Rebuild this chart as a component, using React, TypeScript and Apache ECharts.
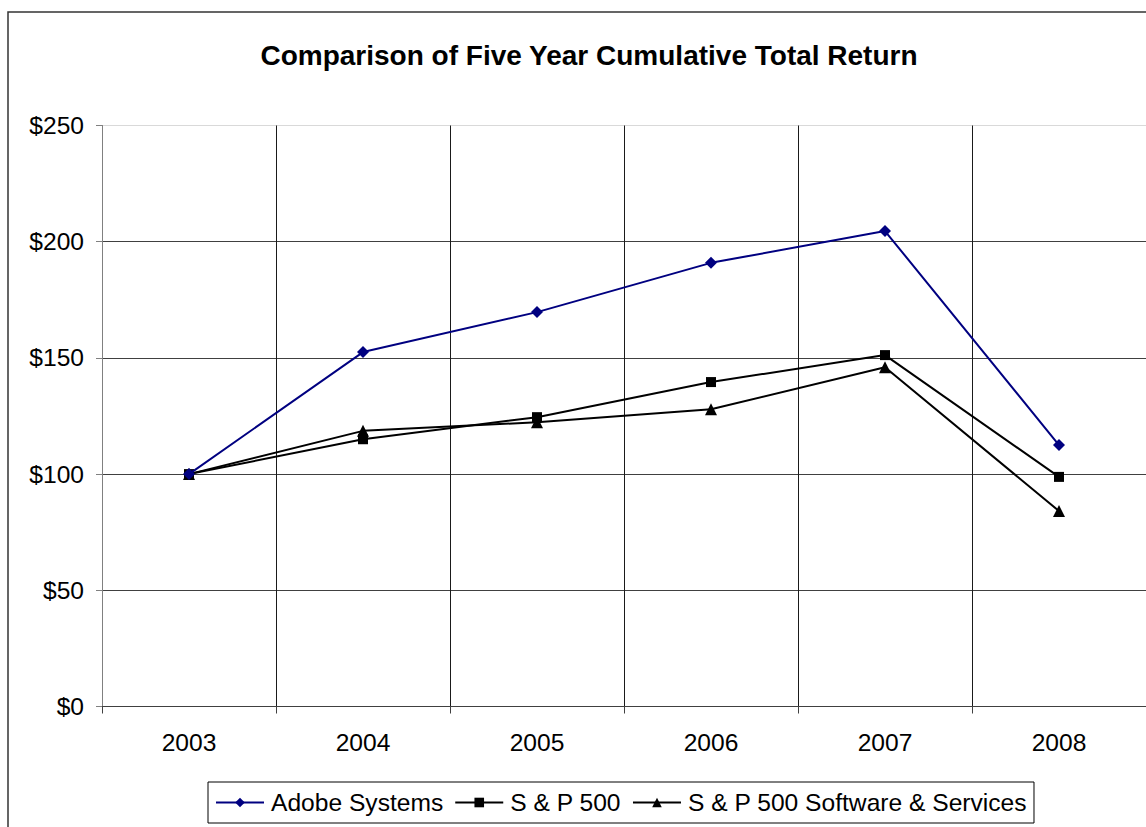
import React, { useEffect, useRef } from "react";
import * as echarts from "echarts";

const years = ["2003", "2004", "2005", "2006", "2007", "2008"];
const adobe = [100, 152.5, 169.7, 190.9, 204.6, 112.5];
const sp500 = [100, 115.0, 124.5, 139.6, 151.2, 98.8];
const spSoftware = [100, 118.6, 122.3, 127.9, 146.0, 84.1];
const seriesNames = ["Adobe Systems", "S & P 500", "S & P 500 Software & Services"];
const yTicks = { min: 0, max: 250, interval: 50 };

const FONT = "Liberation Sans, Arial, sans-serif";

export default function App() {
  const ref = useRef<HTMLDivElement>(null);
  useEffect(() => {
    if (!ref.current) return;
    const chart = echarts.init(ref.current, null, { renderer: "svg" });
    chart.setOption({
      animation: false,
      backgroundColor: "#ffffff",
      textStyle: { fontFamily: FONT },
      title: {
        text: "Comparison of Five Year Cumulative Total Return",
        left: 584,
        textAlign: "center",
        top: 36,
        textStyle: { fontFamily: FONT, fontSize: 28, fontWeight: "bold", color: "#000" },
      },
      graphic: [
        {
          type: "rect",
          shape: { x: 8, y: 12, width: 1300, height: 1000 },
          style: { fill: "none", stroke: "#333", lineWidth: 1.5 },
          silent: true,
          z: 100,
        },
      ],
      legend: {
        left: 208,
        top: 782,
        padding: [8, 7, 8, 7],
        borderColor: "#000",
        borderWidth: 1,
        itemWidth: 48,
        itemHeight: 12,
        itemGap: 11,
        textStyle: { fontFamily: FONT, fontSize: 24.6, color: "#000", padding: [0, 0, 0, 2] },
        data: seriesNames,
      },
      grid: { left: 102, top: 125.5, width: 1051.2, height: 581, containLabel: false },
      xAxis: {
        type: "category",
        data: years,
        boundaryGap: true,
        axisLine: { lineStyle: { color: "#404040", width: 1 } },
        axisTick: { show: true, length: 7, inside: false, lineStyle: { color: "#404040" } },
        axisLabel: { fontFamily: FONT, fontSize: 24.6, color: "#000", margin: 23 },
        splitLine: {
          show: true,
          lineStyle: { color: ["#808080", "#1a1a1a", "#1a1a1a", "#1a1a1a", "#1a1a1a", "#1a1a1a", "#1a1a1a"], width: 1 },
        },
      },
      yAxis: {
        type: "value",
        min: yTicks.min,
        max: yTicks.max,
        interval: yTicks.interval,
        axisLine: { show: true, lineStyle: { color: "#808080", width: 1 } },
        axisTick: { show: true, length: 6, inside: false, lineStyle: { color: "#808080" } },
        axisLabel: {
          fontFamily: FONT,
          fontSize: 24.6,
          color: "#000",
          margin: 18,
          formatter: (v: number) => "$" + v,
        },
        splitLine: {
          show: true,
          lineStyle: { color: ["#404040", "#404040", "#404040", "#404040", "#404040", "#d9d9d9"], width: 1 },
        },
      },
      series: [
        {
          name: seriesNames[0],
          type: "line",
          data: adobe,
          symbol: "diamond",
          symbolSize: 12,
          showAllSymbol: true,
          lineStyle: { color: "#000080", width: 2 },
          itemStyle: { color: "#000080" },
          z: 5,
        },
        {
          name: seriesNames[1],
          type: "line",
          data: sp500,
          symbol: "rect",
          symbolSize: 10,
          lineStyle: { color: "#000", width: 2 },
          itemStyle: { color: "#000" },
          z: 4,
        },
        {
          name: seriesNames[2],
          type: "line",
          data: spSoftware,
          symbol: "triangle",
          symbolSize: 12,
          lineStyle: { color: "#000", width: 2 },
          itemStyle: { color: "#000" },
          z: 3,
        },
      ],
    });
    return () => chart.dispose();
  }, []);
  return (
    <div style={{ position: "absolute", left: 0, top: 0, width: 1146, height: 827, overflow: "hidden" }}>
      <div ref={ref} style={{ width: 1146, height: 827 }} />
    </div>
  );
}
